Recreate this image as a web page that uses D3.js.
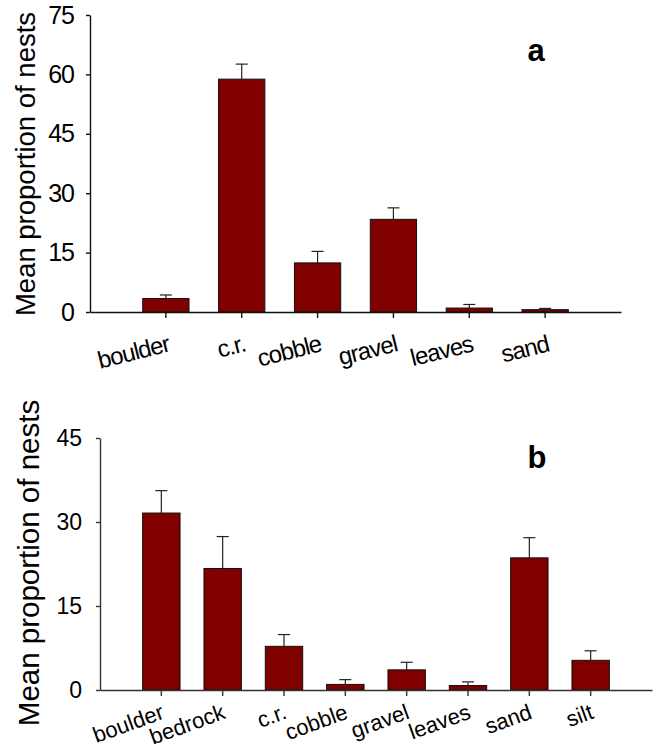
<!DOCTYPE html>
<html>
<head>
<meta charset="utf-8">
<style>
    body {
        margin: 0;
        background: #fff;
        font-family: "Liberation Sans", Arial, sans-serif;
    }
    svg {
        display: block;
    }
    .bar {
        fill: #800000;
        stroke: #111;
        stroke-width: 1;
    }
    .err {
        stroke: #222;
        stroke-width: 1.2;
        fill: none;
    }
    .panel-letter {
        font-weight: bold;
        text-anchor: middle;
    }
</style>
</head>
<body>
<script src="https://cdn.jsdelivr.net/npm/d3@7"></script>
<script>

    // panel a
    var catsA = ["boulder", "c.r.", "cobble", "gravel", "leaves", "sand"];
    var meanA = [3.4, 58.8, 12.4, 23.4, 1.0, 0.6];
    var errA  = [0.9, 3.8, 2.9, 2.9, 0.9, 0.3];
    var ticksA = [0, 15, 30, 45, 60, 75];

    // panel b
    var catsB = ["boulder", "bedrock", "c.r.", "cobble", "gravel", "leaves", "sand", "silt"];
    var meanB = [31.6, 21.7, 7.8, 1.0, 3.6, 0.8, 23.6, 5.3];
    var errB  = [4.0, 5.7, 2.1, 0.85, 1.35, 0.65, 3.6, 1.7];
    var ticksB = [0, 15, 30, 45];

    var svg = d3.select("body").append("svg")
        .attr("width", 660)
        .attr("height", 748);

    function drawPanel(p) {
        var x = d3.scaleBand()
            .domain(p.cats)
            .range([p.left, p.right])
            .paddingInner(0.39)
            .paddingOuter(0.695);

        var y = d3.scaleLinear()
            .domain([0, d3.max(p.ticks)])
            .range([p.bottom, p.top]);

        var rows = p.cats.map(function(c, i) {
            return {cat: c, mean: p.mean[i], err: p.err[i]};
        });

        var g = svg.append("g");

        // error bars (upper only), drawn under the bars
        var eb = g.selectAll(".eb")
            .data(rows)
          .enter().append("g")
            .attr("class", "err");
        eb.append("line")
            .attr("x1", function(d) { return x(d.cat) + x.bandwidth() / 2; })
            .attr("x2", function(d) { return x(d.cat) + x.bandwidth() / 2; })
            .attr("y1", function(d) { return y(d.mean); })
            .attr("y2", function(d) { return y(d.mean + d.err); });
        eb.append("line")
            .attr("x1", function(d) { return x(d.cat) + x.bandwidth() / 2 - 6; })
            .attr("x2", function(d) { return x(d.cat) + x.bandwidth() / 2 + 6; })
            .attr("y1", function(d) { return y(d.mean + d.err); })
            .attr("y2", function(d) { return y(d.mean + d.err); });

        g.selectAll("rect")
            .data(rows)
          .enter().append("rect")
            .attr("class", "bar")
            .attr("x", function(d) { return x(d.cat); })
            .attr("y", function(d) { return y(d.mean); })
            .attr("width", x.bandwidth())
            .attr("height", function(d) { return y(0) - y(d.mean); });

        // y axis
        var ya = g.append("g")
            .attr("transform", "translate(" + p.left + ",0)")
            .call(d3.axisLeft(y).tickValues(p.ticks).tickSize(4).tickSizeOuter(0).tickPadding(p.tickPad));
        ya.selectAll("path, line").attr("stroke", p.axisColor).attr("stroke-width", 1.4);
        ya.selectAll("text")
            .attr("fill", "#000")
            .style("font-family", '"Liberation Sans", Arial, sans-serif')
            .style("font-size", p.tickFont + "px")
            .style("letter-spacing", p.spacing + "px");

        // x axis
        var xa = g.append("g")
            .attr("transform", "translate(0," + p.bottom + ")")
            .call(d3.axisBottom(x).tickSize(6).tickSizeOuter(0));
        xa.selectAll("path, line").attr("stroke", p.axisColor).attr("stroke-width", 1.4);
        xa.selectAll("text").remove();

        g.append("g").selectAll("text")
            .data(p.cats)
          .enter().append("text")
            .attr("transform", function(d) {
                return "translate(" + (x(d) + x.bandwidth() / 2 + p.labDx) + "," + (p.bottom + p.labDy) + ") rotate(" + p.angle + ")";
            })
            .attr("text-anchor", "end")
            .style("font-size", p.catFont + "px")
            .style("letter-spacing", p.spacing + "px")
            .text(function(d) { return d; });

        // y title
        g.append("text")
            .attr("transform", "translate(" + p.titleX + "," + p.titleY + ") rotate(-90)")
            .attr("text-anchor", "middle")
            .style("font-size", p.titleFont + "px")
            .text("Mean proportion of nests");

        g.append("text")
            .attr("class", "panel-letter")
            .attr("x", p.letterX)
            .attr("y", p.letterY)
            .style("font-size", "31px")
            .text(p.letter);
    }

    drawPanel({
        cats: catsA, mean: meanA, err: errA, ticks: ticksA,
        left: 90, right: 621, top: 15, bottom: 312,
        axisColor: "#111", tickPad: 12, tickFont: 25, catFont: 24, spacing: -1,
        labDx: 5, labDy: 39, angle: -14,
        titleX: 35, titleY: 164, titleFont: 27.5,
        letter: "a", letterX: 536, letterY: 61
    });

    drawPanel({
        cats: catsB, mean: meanB, err: errB, ticks: ticksB,
        left: 100, right: 652, top: 438, bottom: 690,
        axisColor: "#333", tickPad: 14, tickFont: 23, catFont: 22, spacing: 0,
        labDx: 4, labDy: 28, angle: -20,
        titleX: 39, titleY: 563, titleFont: 29.5,
        letter: "b", letterX: 537, letterY: 468
    });
</script>
</body>
</html>
